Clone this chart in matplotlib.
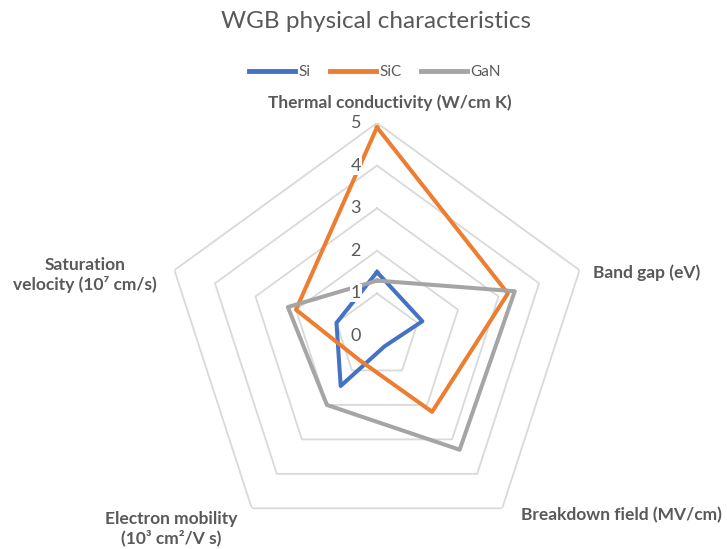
import numpy as np
import matplotlib
matplotlib.use('Agg')
import matplotlib.pyplot as plt

# WGB radar chart: Si vs SiC vs GaN

categories = ['Thermal conductivity (W/cm K)', 'Band gap (eV)', 'Breakdown field (MV/cm)',
              'Electron mobility\n(10³ cm²/V s)', 'Saturation\nvelocity (10⁷ cm/s)']
si = [1.5, 1.12, 0.3, 1.45, 1.0]
sic = [4.9, 3.23, 2.2, 0.7, 2.0]
gan = [1.3, 3.4, 3.3, 2.0, 2.2]
series = {'Si': si, 'SiC': sic, 'GaN': gan}
colors = {'Si': '#4472C4', 'SiC': '#ED7D31', 'GaN': '#A5A5A5'}
rings = [1, 2, 3, 4, 5]
tick_vals = [0, 1, 2, 3, 4, 5]

plt.rcParams['font.family'] = ['Lato', 'DejaVu Sans']
txt = '#595959'

W, H = 727, 549
fig = plt.figure(figsize=(W/100, H/100), dpi=100)

cx, cy, R = 377, 336, 213
ax = fig.add_axes([(cx-R)/W, (H-cy-R)/H, 2*R/W, 2*R/H], projection='polar')
ax.set_theta_offset(np.pi/2)
ax.set_theta_direction(-1)
ax.set_ylim(0, 5)
ax.grid(False)
ax.spines['polar'].set_visible(False)
ax.set_xticks([])
ax.set_yticks([])
ax.patch.set_alpha(0)

n = len(categories)
ang = np.linspace(0, 2*np.pi, n, endpoint=False)
ang_c = np.append(ang, ang[0])

for r in rings:
    ax.plot(ang_c, [r]*(n+1), color='#D9D9D9', lw=1.3, zorder=1)

for name, vals in series.items():
    ax.plot(ang_c, vals + vals[:1], color=colors[name], lw=2.9, label=name, zorder=3)

for v in tick_vals:
    ax.annotate(str(v), xy=(0, v), xytext=(-16, 0), textcoords='offset pixels',
                ha='right', va='center', fontsize=13, color=txt, zorder=5,
                bbox=dict(boxstyle='square,pad=0.05', fc='white', ec='none'))

fig.text(376/W, 1-22/H, 'WGB physical characteristics', ha='center', va='center',
         fontsize=17.5, color=txt)

label_pos = [(390, 103), (647, 273), (621, 515), (171, 529), (85, 275)]
for lab, (x, y) in zip(categories, label_pos):
    fig.text(x/W, 1-y/H, lab, ha='center', va='center', fontsize=12.5,
             fontweight='bold', color=txt, linespacing=1.2)

leg = fig.legend(loc='center', bbox_to_anchor=(375/W, 1-72/H), ncol=3, frameon=False,
                 fontsize=11, handlelength=3.0, handletextpad=0.2, columnspacing=1.3)
for t in leg.get_texts():
    t.set_color(txt)
for l in leg.get_lines():
    l.set_linewidth(3.5)

fig.savefig('out.png', dpi=100)
